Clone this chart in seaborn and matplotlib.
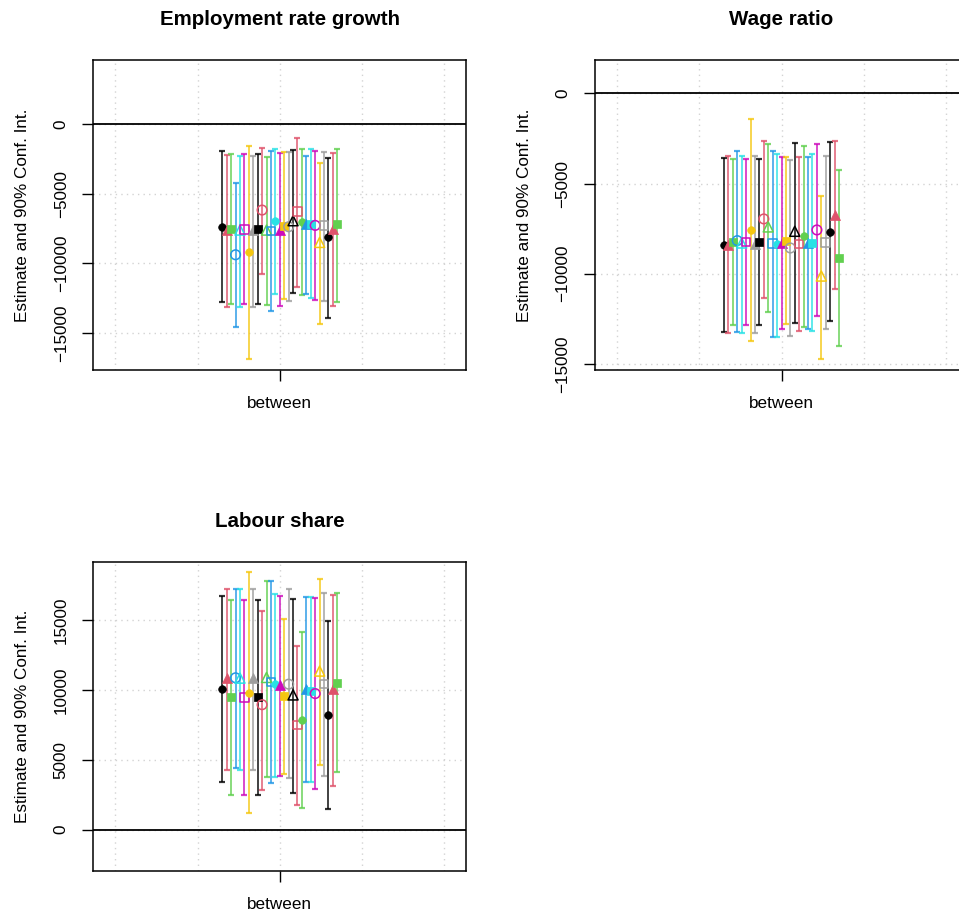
import numpy as np
import pandas as pd
import matplotlib
matplotlib.use("Agg")
import matplotlib.pyplot as plt
from matplotlib.markers import MarkerStyle
import seaborn as sns

# ---------------- data ----------------
category = "between"
panel_titles = ["Employment rate growth", "Wage ratio", "Labour share"]
ylabel = "Estimate and 90% Conf. Int."

emp_est = [-7362, -7602, -7554, -9376, -7602, -7554, -9208, -7602, -7554, -6163,
           -7602, -7674, -6954, -7602, -7290, -7362, -6930, -6283, -7002, -7170,
           -7170, -7266, -8489, -7290, -8129, -7554, -7194]
emp_hi = [-1918, -2206, -2158, -4197, -2254, -2158, -1535, -2254, -2158, -1679,
          -2350, -1918, -1775, -2086, -2014, -1966, -1846, -959, -1799, -2254,
          -1775, -1894, -2758, -1966, -2398, -2038, -1775]
emp_lo = [-12805, -13141, -12925, -14580, -13117, -12925, -16834, -13141, -12925, -10743,
          -13021, -13405, -12182, -13069, -12565, -12733, -12110, -11678, -12278, -12206,
          -12470, -12637, -14340, -12685, -13908, -13069, -12757]

wage_est = [-8390, -8390, -8241, -8167, -8297, -8241, -7593, -8334, -8241, -6964,
            -7408, -8334, -8334, -8297, -8186, -8575, -7649, -8353, -7927, -8297,
            -8297, -7575, -10130, -8260, -7667, -6723, -9130]
wage_hi = [-3574, -3500, -3630, -3185, -3500, -3630, -1445, -3482, -3630, -2630,
           -2834, -3185, -3352, -3556, -3519, -3723, -2741, -3519, -2926, -3537,
           -3371, -2797, -5686, -3463, -2685, -2630, -4278]
wage_lo = [-13223, -13279, -12853, -13205, -13279, -12834, -13742, -13279, -12853, -11334,
           -12131, -13483, -13483, -13038, -12797, -13427, -12705, -13186, -12927, -13075,
           -13186, -12371, -14723, -13075, -12649, -10853, -14001]

lab_est = [10096, 10850, 9471, 10865, 10841, 9471, 9808, 10841, 9471, 8942,
           10889, 10553, 10433, 10337, 9543, 10409, 9639, 7500, 7812, 10050,
           9904, 9736, 11346, 10409, 8221, 10072, 10529]
lab_hi = [16731, 17212, 16443, 17236, 17236, 16443, 18462, 17236, 16443, 15673,
          17765, 17765, 16875, 16707, 15096, 17188, 16515, 13149, 14111, 16659,
          16659, 16539, 17909, 16948, 14928, 16803, 16899]
lab_lo = [3413, 4303, 2475, 4423, 4303, 2475, 1201, 4303, 2475, 2860,
          3798, 3341, 3798, 3846, 3966, 3678, 2620, 1802, 1538, 3389,
          3389, 2908, 4639, 3870, 1466, 3149, 4158]

yticks = [[-15000, -10000, -5000, 0], [-15000, -10000, -5000, 0], [0, 5000, 10000, 15000]]
ylims = [(-17658, 4621), (-15338, 1846), (-2954, 19170)]

# ---------------- style ----------------
palette = ["#000000", "#DF536B", "#61D04F", "#2297E6", "#28E2E5", "#CD0BBC", "#F5C710", "#9E9E9E"]
marker_cycle = [("o", True), ("^", True), ("s", True), ("o", False), ("^", False), ("s", False)]

sns.set_style("white")
plt.rcParams["font.family"] = ["Liberation Sans", "DejaVu Sans"]
for key in ["text.color", "axes.labelcolor", "xtick.color", "ytick.color", "axes.edgecolor"]:
    plt.rcParams[key] = "black"

W, H = 959, 916
fig = plt.figure(figsize=(W / 100, H / 100), dpi=100)

def frac_box(l, r, t, b):
    return [l / W, 1 - b / H, (r - l) / W, (b - t) / H]

boxes = [frac_box(93.3, 466.3, 60, 370), frac_box(595, 968, 60, 370), frac_box(93.3, 466.3, 561.7, 871)]
panels = [(emp_est, emp_lo, emp_hi), (wage_est, wage_lo, wage_hi), (lab_est, lab_lo, lab_hi)]

n = len(emp_est)
offsets = np.linspace(-0.70, 0.70, n)

for k, (box, (est, lo, hi)) in enumerate(zip(boxes, panels)):
    ax = fig.add_axes(box)
    df = pd.DataFrame({"x": offsets, "est": est, "lo": lo, "hi": hi})
    ax.set_xlim(-2.27, 2.27)
    ax.set_ylim(*ylims[k])
    # grid
    for gx in [-2, -1, 0, 1, 2]:
        ax.axvline(gx, color="#D3D3D3", lw=1.0, ls=(0, (1, 3)), zorder=0)
    for gy in yticks[k]:
        ax.axhline(gy, color="#D3D3D3", lw=1.0, ls=(0, (1, 3)), zorder=0)
    ax.axhline(0, color="black", lw=1.3, zorder=1)
    # confidence intervals
    for i, row in df.iterrows():
        c = palette[i % 8]
        ax.errorbar(row["x"], row["est"],
                    yerr=[[row["est"] - row["lo"]], [row["hi"] - row["est"]]],
                    fmt="none", ecolor=c, elinewidth=1.3, capsize=2.2, capthick=1.6,
                    alpha=0.8, zorder=2)
    # point estimates
    for i, row in df.iterrows():
        c = palette[i % 8]
        m, filled = marker_cycle[i % 6]
        sizes = {"o": 30 if filled else 48, "^": 52, "s": 38}
        if filled:
            sns.scatterplot(x=[row["x"]], y=[row["est"]], ax=ax, marker=m, color=c,
                            edgecolor=c, linewidth=0.5, s=sizes[m], zorder=3, legend=False)
        else:
            sns.scatterplot(x=[row["x"]], y=[row["est"]], ax=ax,
                            marker=MarkerStyle(m, fillstyle="none"), color=c,
                            linewidth=1.1, s=sizes[m], zorder=3, legend=False)
    ax.set_xticks([0])
    ax.set_xticklabels([category])
    ax.set_yticks(yticks[k])
    ax.set_yticklabels([f"{v:d}".replace("-", "\u2212") for v in yticks[k]])
    ax.tick_params(axis="both", direction="out", length=7.7, width=1.0, color="black",
                   labelcolor="black", labelsize=12.3, pad=10, bottom=True, left=True)
    ax.tick_params(axis="x", pad=11)
    for lab in ax.get_yticklabels():
        lab.set_rotation(90)
        lab.set_va("center")
        lab.set_ha("right")
    for sp in ax.spines.values():
        sp.set_visible(True)
        sp.set_color("black")
        sp.set_linewidth(1.1)
    ax.set_xlabel("")
    ax.set_ylabel(ylabel, fontsize=12.3, color="black")
    ax.yaxis.set_label_coords(-0.17, 0.5)
    ax.set_title(panel_titles[k], fontsize=14.8, fontweight="bold", pad=25, color="black")

fig.savefig("out.png", dpi=100)
